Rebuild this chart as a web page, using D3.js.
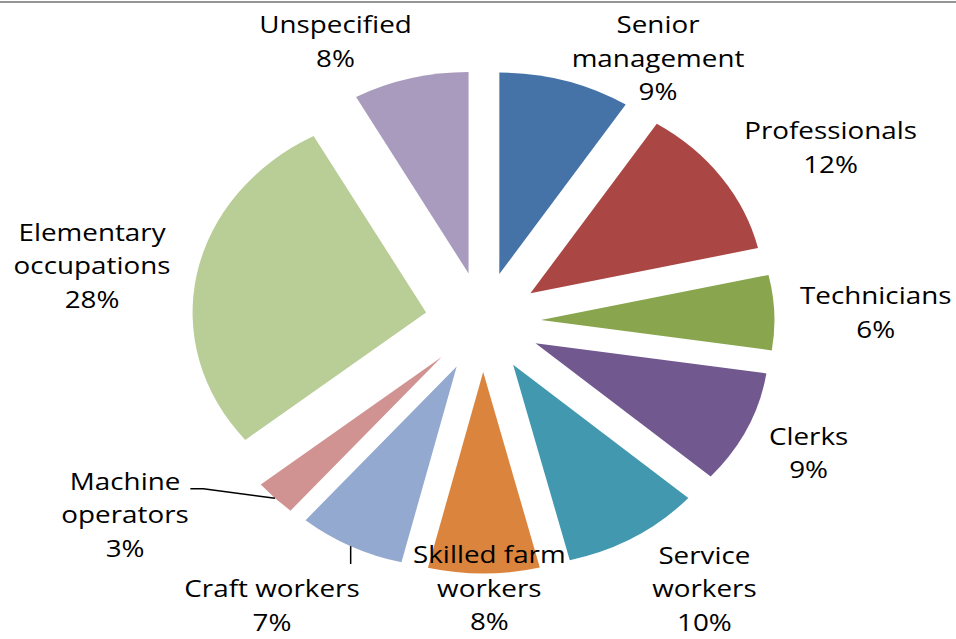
<!DOCTYPE html>
<html>
<head>
    <title>Occupation pie</title>
    <meta charset="utf-8">
    <style>
        body { margin: 0; background: #fff; }
        svg { display: block; }
        text.label { font-family: "Open Sans", sans-serif; font-size: 24px; fill: #000; }
        path.leader { fill: none; stroke: #000; stroke-width: 1.5px; }
    </style>
    <script src="https://cdn.jsdelivr.net/npm/d3@7"></script>
</head>
<body>
    <svg width="956" height="639"></svg>
    <script>
        // data (shares in %, clockwise from 12 o'clock)
        var categories = ["Senior\nmanagement", "Professionals", "Technicians", "Clerks", "Service\nworkers",
            "Skilled farm\nworkers", "Craft workers", "Machine\noperators", "Elementary\noccupations", "Unspecified"];
        var shares = [9.1, 12.3, 6.0, 9.1, 9.6, 7.7, 7.4, 2.9, 27.9, 8.0];
        var colors = ["#4572a7", "#aa4643", "#89a54e", "#71588f", "#4198af",
            "#db843d", "#93a9cf", "#d19392", "#b9cd96", "#a99bbd"];

        // where the author dragged each label: shift from slice mid angle (deg) and distance from centre
        var labelAngleShift = [13.4, 4.9, 0.5, 0, -4.3, -1.0, 5.7, 12.5, -1.5, -10.0];
        var labelRadius = [304, 347, 339, 310, 328, 266, 337, 364, 342, 308];
        var leaderType = [null, null, null, null, null, null, "drop", "elbow", null, null];

        var svg = d3.select("svg");
        var cx = 483, cy = 322, radius = 201.5, explode = 50;
        var sx = 1.159; // the picture is stretched sideways
        var lineH = 33.5, capH = 17.3;

        // chart frame top edge
        svg.append("rect").attr("x", 0).attr("y", 1).attr("width", 956).attr("height", 2).attr("fill", "#959595");

        var total = d3.sum(shares);
        var pie = d3.pie().sort(null).value(function (d) { return d; });
        var arc = d3.arc().innerRadius(0).outerRadius(radius);
        var arcs = pie(shares);

        function mid(d) { return (d.startAngle + d.endAngle) / 2; }

        // pie in unstretched units, then scaled in x
        var g = svg.append("g")
            .attr("transform", "translate(" + cx + "," + cy + ") scale(" + sx + ",1)");

        g.selectAll("path.slice")
            .data(arcs)
            .enter().append("path")
            .attr("class", "slice")
            .attr("fill", function (d, i) { return colors[i]; })
            .attr("transform", function (d) {
                var a = mid(d);
                return "translate(" + (explode * Math.sin(a)) + "," + (-explode * Math.cos(a)) + ")";
            })
            .attr("d", arc);

        function toScreen(a, r) {
            return [cx + sx * r * Math.sin(a), cy - r * Math.cos(a)];
        }

        var labels = svg.append("g");

        arcs.forEach(function (d, i) {
            var a = mid(d) + labelAngleShift[i] * Math.PI / 180;
            var p = toScreen(a, labelRadius[i]);
            var lines = categories[i].split("\n").concat([Math.round(shares[i] / total * 100) + "%"]);
            var firstBase = p[1] - (lines.length - 1) * lineH / 2 + capH / 2;

            var t = labels.append("g")
                .attr("transform", "translate(" + p[0] + "," + firstBase + ") scale(" + sx + ",1)")
                .append("text")
                .attr("class", "label")
                .attr("text-anchor", "middle");

            lines.forEach(function (s, k) {
                t.append("tspan").attr("x", 0).attr("y", k * lineH).text(s);
            });

            if (!leaderType[i]) return;

            // leader starts at the middle of the exploded slice's outer arc
            var m = mid(d);
            var start = [cx + sx * (explode + radius) * Math.sin(m), cy - (explode + radius) * Math.cos(m)];
            var pts;
            if (leaderType[i] === "elbow") {
                var w = t.select("tspan").node().getComputedTextLength() * sx;
                var right = p[0] + w / 2;
                pts = [start, [right + 23, firstBase - 1], [right + 10, firstBase - 1]];
            } else {
                pts = [start, [start[0], firstBase - lineH]];
            }
            labels.append("path").attr("class", "leader").attr("d", d3.line()(pts));
        });
    </script>
</body>
</html>
